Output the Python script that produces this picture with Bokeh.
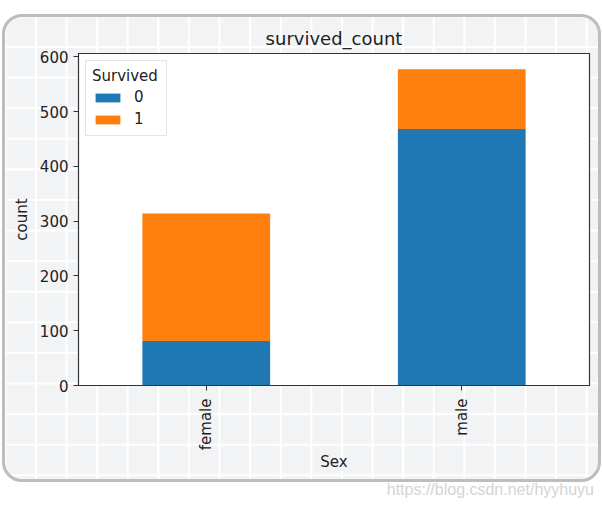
import math
from bokeh.plotting import figure
from bokeh.layouts import column
from bokeh.models import Range1d, FixedTicker, Legend, LegendItem, Div
from bokeh.embed import file_html
from bokeh.resources import INLINE

sexes = ["female", "male"]
survived_0 = [81, 468]
survived_1 = [233, 109]
survived_labels = ["0", "1"]
y_ticks = [0, 100, 200, 300, 400, 500, 600]
watermark = "https://blog.csdn.net/hyyhuyu"

colors = ["#1f77b4", "#ff7f0e"]
FONT = "DejaVu Sans"

x_pos = list(range(len(sexes)))
data = {"x": x_pos, "s0": survived_0, "s1": survived_1}
y_max = max(a + b for a, b in zip(survived_0, survived_1)) * 1.05

p = figure(width=599, height=468, output_backend="svg", toolbar_location=None,
           x_range=Range1d(-0.5, len(sexes) - 0.5),
           y_range=Range1d(0, y_max),
           min_border_left=73, min_border_right=15, min_border_top=36, min_border_bottom=100)
p.margin = (14, 0, 0, 2)
p.styles = {
    "border": "3px solid #bdbdbd",
    "border-radius": "20px",
    "background-color": "#f2f3f5",
    "background-image": "linear-gradient(to right, #ffffff 2px, transparent 2px), "
                        "linear-gradient(to bottom, #ffffff 2px, transparent 2px)",
    "background-size": "30.6px 30.6px",
    "background-position": "30px 29px",
}

rs = p.vbar_stack(["s0", "s1"], x="x", width=0.5, color=colors, line_color=None, source=data)

p.title.text = "survived_count"
p.title.align = "center"
p.title.text_font = FONT
p.title.text_font_size = "18px"
p.title.text_font_style = "normal"
p.title.text_color = "#222222"

p.xgrid.visible = False
p.ygrid.visible = False
p.background_fill_color = "white"
p.border_fill_color = None
p.outline_line_color = "#333333"
p.outline_line_width = 1.2

xa = p.xaxis[0]
xa.ticker = FixedTicker(ticks=x_pos)
xa.major_label_overrides = {i: s for i, s in zip(x_pos, sexes)}
xa.major_label_orientation = math.pi / 2
xa.axis_label = "Sex"
ya = p.yaxis[0]
ya.ticker = FixedTicker(ticks=y_ticks)
ya.axis_label = "count"
for ax in (xa, ya):
    ax.minor_tick_line_color = None
    ax.major_tick_in = 0
    ax.major_tick_out = 5
    ax.axis_line_color = "#333333"
    ax.major_tick_line_color = "#333333"
    ax.major_label_text_font = FONT
    ax.major_label_text_font_size = "15px"
    ax.major_label_text_color = "#222222"
    ax.axis_label_text_font = FONT
    ax.axis_label_text_font_size = "15px"
    ax.axis_label_text_font_style = "normal"
    ax.axis_label_text_color = "#222222"
xa.major_label_standoff = 8
xa.axis_label_standoff = 0
ya.axis_label_standoff = 6

legend = Legend(items=[LegendItem(label=lab, renderers=[r]) for lab, r in zip(survived_labels, rs)],
                location="top_left", title="Survived")
legend.title_text_font = FONT
legend.title_text_font_size = "15px"
legend.title_text_font_style = "normal"
legend.title_text_color = "#222222"
legend.label_text_font = FONT
legend.label_text_font_size = "15px"
legend.label_text_color = "#222222"
legend.border_line_color = "#cccccc"
legend.background_fill_alpha = 0.8
legend.glyph_width = 31
legend.glyph_height = 11
legend.label_height = 20
legend.label_width = 26
legend.margin = 7
legend.padding = 6
legend.spacing = 2
legend.title_standoff = 2
legend.label_standoff = 11
p.add_layout(legend)

wm = Div(text=watermark, width=594, height=20, margin=(0, 0, 0, 0),
         styles={"color": "#d4d4d4", "font-family": "Liberation Sans", "font-size": "16px",
                 "text-align": "right", "line-height": "16px"})

layout = column(p, wm)
open("out.html", "w").write(file_html(layout, INLINE))
